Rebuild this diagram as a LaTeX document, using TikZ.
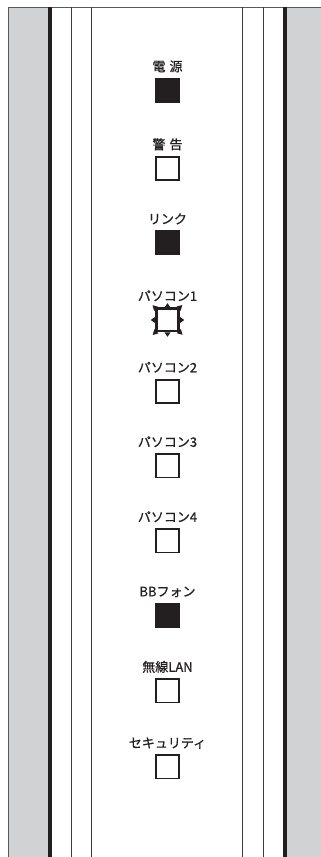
\documentclass[tikz,border=0pt]{standalone}
\usepackage{fontspec}
\newfontfamily\jpfont[FakeBold=0.7]{Noto Sans CJK JP}
\usetikzlibrary{calc,positioning}

\definecolor{panelgray}{HTML}{D1D2D4}
\definecolor{inkblack}{HTML}{231F20}
\definecolor{rulegray}{HTML}{3C3C3C}

\tikzset{
  led/.style={draw=inkblack,line width=1.8pt,minimum size=23.2pt,inner sep=0pt,fill=white},
  ledon/.style={fill=inkblack},
  ledoff/.style={},
  ledblink/.style={line width=2.6pt,minimum size=22.4pt},
  ledlabel/.style={font=\jpfont\fontsize{13}{14}\selectfont,inner sep=0pt,text height=9.5pt,text depth=1pt,text=inkblack},
  thinrule/.style={draw=rulegray,line width=1.3pt},
  thickrule/.style={draw=inkblack,line width=4.6pt}
}

\begin{document}
\begin{tikzpicture}[x=1pt,y=1pt]
  \useasboundingbox (0,0) rectangle (321,857);
  \fill[white] (0,0) rectangle (321,857);
  \fill[panelgray] (8,0) rectangle (48,850);
  \fill[panelgray] (287.3,0) rectangle (321,850);
  \draw[gray!70!black,line width=0.9pt] (8,0) -- (8,850) -- (321,850);
  \foreach \x in {50,285}{
    \draw[thickrule] (\x,0) -- (\x,850);
  }
  \foreach \x in {71.7,91.3,242.7,263.3}{
    \draw[thinrule] (\x,0) -- (\x,850);
  }
  \foreach \y/\txt/\st [count=\i] in {766.5/{電\hspace{4pt}源}/ledon,688.5/{警\hspace{4pt}告}/ledoff,614/リンク/ledon,537/パソコン1/ledblink,465.5/パソコン2/ledoff,391/パソコン3/ledoff,316/パソコン4/ledoff,241.5/BBフォン/ledon,166/無線LAN/ledoff,90/セキュリティ/ledoff}{
    \node[led,\st] (led\i) at (167.5,\y) {};
    \node[ledlabel,above=5.5pt of led\i] (lab\i) {\txt};
  }
  \foreach \a in {0,90,180,270}{
    \fill[inkblack,rotate around={\a:(led4.center)}] ($(led4.center)+(-3,12.5)$) -- ++(3,4.3) -- ++(3,-4.3) -- cycle;
    \fill[inkblack,rotate around={\a:(led4.center)}] ($(led4.center)+(9,13.4)$) -- ++(5.8,1.6) -- ++(-1.6,-5.8) -- cycle;
  }
\end{tikzpicture}
\end{document}
